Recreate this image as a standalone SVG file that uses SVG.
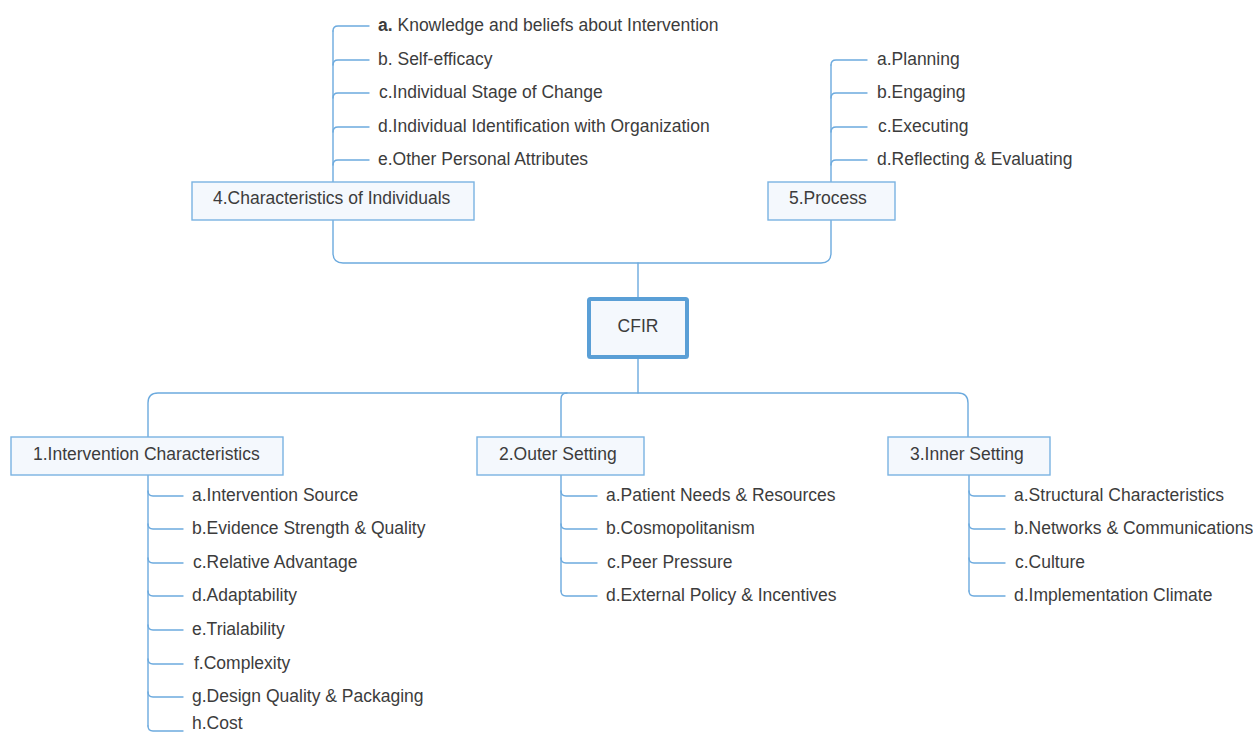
<svg xmlns="http://www.w3.org/2000/svg" width="1253" height="734" viewBox="0 0 1253 734">
<style>
.bg{fill:#ffffff}
.ln{fill:none;stroke:#6caade;stroke-width:1.4;stroke-linecap:round}
.box{fill:#f4f8fd;stroke:#7ab3e2;stroke-width:1.4}
.root{fill:#f4f8fd;stroke:#5a9fd6;stroke-width:4}
.t{font-family:"Liberation Sans",Arial,sans-serif;font-size:17.5px;fill:#3c3c3c}
.b{font-weight:bold}
</style>
<rect class="bg" x="0" y="0" width="1253" height="734"/>
<g id="connectors">
  <path class="ln" d="M333,220 V253 Q333,263 343,263 H821 Q831,263 831,253 V220"/>
  <path class="ln" d="M638,263 V298"/>
  <path class="ln" d="M638,358 V393"/>
  <path class="ln" d="M148,437 V403 Q148,393 158,393 H958 Q968,393 968,403 V437"/>
  <path class="ln" d="M561,437 V399 Q561,393 567,393"/>
  <path class="ln" d="M333,182 V31"/>
  <path class="ln" d="M333,31 Q333,26 338,26 H369"/>
  <path class="ln" d="M333,65 Q333,60 338,60 H369"/>
  <path class="ln" d="M333,98 Q333,93 338,93 H369"/>
  <path class="ln" d="M333,132 Q333,127 338,127 H369"/>
  <path class="ln" d="M333,165 Q333,160 338,160 H369"/>
  <path class="ln" d="M831,182 V65"/>
  <path class="ln" d="M831,65 Q831,60 836,60 H867"/>
  <path class="ln" d="M831,98 Q831,93 836,93 H867"/>
  <path class="ln" d="M831,132 Q831,127 836,127 H867"/>
  <path class="ln" d="M831,165 Q831,160 836,160 H867"/>
  <path class="ln" d="M148,475 V726"/>
  <path class="ln" d="M148,491 Q148,496 153,496 H183"/>
  <path class="ln" d="M148,524 Q148,529 153,529 H183"/>
  <path class="ln" d="M148,558 Q148,563 153,563 H183"/>
  <path class="ln" d="M148,591 Q148,596 153,596 H183"/>
  <path class="ln" d="M148,625 Q148,630 153,630 H183"/>
  <path class="ln" d="M148,659 Q148,664 153,664 H183"/>
  <path class="ln" d="M148,692 Q148,697 153,697 H183"/>
  <path class="ln" d="M148,726 Q148,731 153,731 H183"/>
  <path class="ln" d="M561,475 V591"/>
  <path class="ln" d="M561,491 Q561,496 566,496 H597"/>
  <path class="ln" d="M561,524 Q561,529 566,529 H597"/>
  <path class="ln" d="M561,558 Q561,563 566,563 H597"/>
  <path class="ln" d="M561,591 Q561,596 566,596 H597"/>
  <path class="ln" d="M969,475 V591"/>
  <path class="ln" d="M969,491 Q969,496 974,496 H1005"/>
  <path class="ln" d="M969,524 Q969,529 974,529 H1005"/>
  <path class="ln" d="M969,558 Q969,563 974,563 H1005"/>
  <path class="ln" d="M969,591 Q969,596 974,596 H1005"/>
</g>
<g id="node-cfir">
  <rect class="root" x="589" y="299" width="98" height="58" rx="1.5"/>
  <text class="t" x="638" y="332" text-anchor="middle">CFIR</text>
</g>
<g id="node-4">
  <rect class="box" x="192" y="182" width="282" height="38"/>
  <text class="t" x="213" y="204">4.Characteristics of Individuals</text>
  <text class="t" x="378" y="31"><tspan class="b">a.</tspan> Knowledge and beliefs about Intervention</text>
  <text class="t" x="378" y="65">b. Self-efficacy</text>
  <text class="t" x="379" y="98">c.Individual Stage of Change</text>
  <text class="t" x="378" y="132">d.Individual Identification with Organization</text>
  <text class="t" x="378" y="165">e.Other Personal Attributes</text>
</g>
<g id="node-5">
  <rect class="box" x="768" y="182" width="127" height="38"/>
  <text class="t" x="789" y="204">5.Process</text>
  <text class="t" x="877" y="65">a.Planning</text>
  <text class="t" x="877" y="98">b.Engaging</text>
  <text class="t" x="878" y="132">c.Executing</text>
  <text class="t" x="877" y="165">d.Reflecting &amp; Evaluating</text>
</g>
<g id="node-1">
  <rect class="box" x="11" y="437" width="272" height="38"/>
  <text class="t" x="33" y="460">1.Intervention Characteristics</text>
  <text class="t" x="192" y="501">a.Intervention Source</text>
  <text class="t" x="192" y="534">b.Evidence Strength &amp; Quality</text>
  <text class="t" x="193" y="568">c.Relative Advantage</text>
  <text class="t" x="192" y="601">d.Adaptability</text>
  <text class="t" x="192" y="635">e.Trialability</text>
  <text class="t" x="194" y="669">f.Complexity</text>
  <text class="t" x="192" y="702">g.Design Quality &amp; Packaging</text>
  <text class="t" x="192" y="729">h.Cost</text>
</g>
<g id="node-2">
  <rect class="box" x="477" y="437" width="167" height="38"/>
  <text class="t" x="499" y="460">2.Outer Setting</text>
  <text class="t" x="606" y="501">a.Patient Needs &amp; Resources</text>
  <text class="t" x="606" y="534">b.Cosmopolitanism</text>
  <text class="t" x="607" y="568">c.Peer Pressure</text>
  <text class="t" x="606" y="601">d.External Policy &amp; Incentives</text>
</g>
<g id="node-3">
  <rect class="box" x="888" y="437" width="162" height="38"/>
  <text class="t" x="910" y="460">3.Inner Setting</text>
  <text class="t" x="1014" y="501">a.Structural Characteristics</text>
  <text class="t" x="1014" y="534">b.Networks &amp; Communications</text>
  <text class="t" x="1015" y="568">c.Culture</text>
  <text class="t" x="1014" y="601">d.Implementation Climate</text>
</g>
</svg>
